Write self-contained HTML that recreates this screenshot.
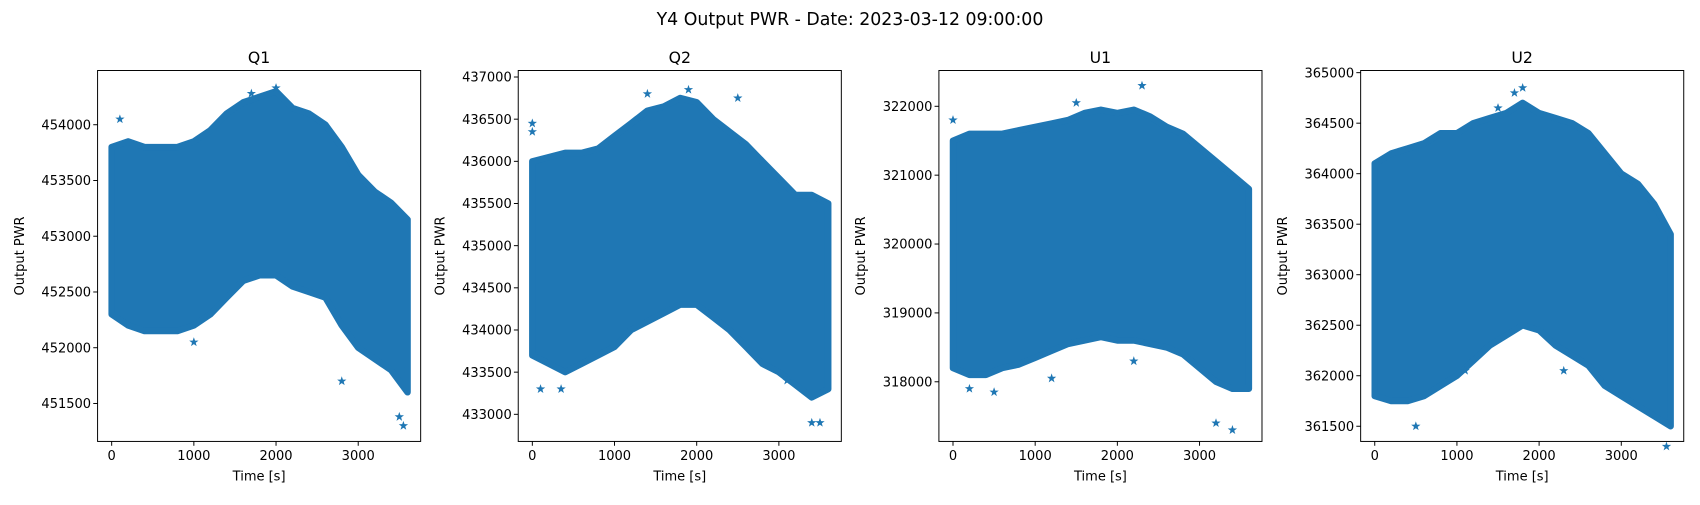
<!DOCTYPE html>
<html><head><meta charset="utf-8"><style>
body{margin:0;background:#fff;}
svg text{font-family:"DejaVu Sans","Liberation Sans",sans-serif;fill:#000;}
</style></head><body>
<svg id="fig" width="1700" height="500" viewBox="0 0 1568 461" preserveAspectRatio="none" xmlns="http://www.w3.org/2000/svg">
<text x="784" y="23" font-size="16" text-anchor="middle">Y4 Output PWR - Date: 2023-03-12 09:00:00</text>
</svg>
<script>
const times=[0,200,400,600,800,1000,1200,1400,1600,1800,2000,2200,2400,2600,2800,3000,3200,3400,3600];
const q1Upper=[453800,453850,453800,453800,453800,453850,453950,454100,454200,454250,454300,454150,454100,454000,453800,453550,453400,453300,453150];
const q1Lower=[452300,452200,452150,452150,452150,452200,452300,452450,452600,452650,452650,452550,452500,452450,452200,452000,451900,451800,451600];
const q1OutT=[100,1000,2800,3550,3500,1700,2000];
const q1OutV=[454050,452050,451700,451300,451380,454280,454330];
const q2Upper=[436000,436050,436100,436100,436150,436300,436450,436600,436650,436750,436700,436500,436350,436200,436000,435800,435600,435600,435500];
const q2Lower=[433700,433600,433500,433600,433700,433800,434000,434100,434200,434300,434300,434150,434000,433800,433600,433500,433350,433200,433300];
const q2OutT=[0,0,100,350,2500,3400,3500,3100,1400,1900];
const q2OutV=[436450,436350,433300,433300,436750,432900,432900,433400,436800,436850];
const u1Upper=[321500,321600,321600,321600,321650,321700,321750,321800,321900,321950,321900,321950,321850,321700,321600,321400,321200,321000,320800];
const u1Lower=[318200,318100,318100,318200,318250,318350,318450,318550,318600,318650,318600,318600,318550,318500,318400,318200,318000,317900,317900];
const u1OutT=[0,2300,3200,3400,200,500,1200,2200,1500];
const u1OutV=[321800,322300,317400,317300,317900,317850,318050,318300,322050];
const u2Upper=[364100,364200,364250,364300,364400,364400,364500,364550,364600,364700,364600,364550,364500,364400,364200,364000,363900,363700,363400];
const u2Lower=[361800,361750,361750,361800,361900,362000,362150,362300,362400,362500,362450,362300,362200,362100,361900,361800,361700,361600,361500];
const u2OutT=[1800,1700,500,3550,1500,2300,1100];
const u2OutV=[364850,364800,361500,361300,364650,362050,362050];
const xTicks=[0,1000,2000,3000];
const panels=[
 {name:'q1',title:'Q1',x0:90,up:q1Upper,lo:q1Lower,ot:q1OutT,ov:q1OutV,yTicks:[451500,452000,452500,453000,453500,454000],yA:454000,pyA:115,yB:451500,pyB:372},
 {name:'q2',title:'Q2',x0:478,up:q2Upper,lo:q2Lower,ot:q2OutT,ov:q2OutV,yTicks:[433000,433500,434000,434500,435000,435500,436000,436500,437000],yA:437000,pyA:71,yB:433000,pyB:382},
 {name:'u1',title:'U1',x0:866,up:u1Upper,lo:u1Lower,ot:u1OutT,ov:u1OutV,yTicks:[318000,319000,320000,321000,322000],yA:322000,pyA:98,yB:318000,pyB:352},
 {name:'u2',title:'U2',x0:1255,up:u2Upper,lo:u2Lower,ot:u2OutT,ov:u2OutV,yTicks:[361500,362000,362500,363000,363500,364000,364500,365000],yA:365000,pyA:67,yB:361500,pyB:393}
];
const NS='http://www.w3.org/2000/svg';
const svg=document.getElementById('fig');
function mk(tag,attrs,parent){const e=document.createElementNS(NS,tag);for(const k in attrs)e.setAttribute(k,attrs[k]);(parent||svg).appendChild(e);return e;}
const W=298,TOP=65,BOT=407,C='#1f77b4';
function starPts(cx,cy,r){let p=[];for(let i=0;i<10;i++){const a=-Math.PI/2+i*Math.PI/5;const rr=i%2?r*0.4:r;p.push((cx+rr*Math.cos(a)).toFixed(1)+','+(cy+rr*Math.sin(a)).toFixed(1));}return p.join(' ');}
panels.forEach(P=>{
 const g=mk('g',{});
 
 
 const xs=t=>P.x0+13+t*0.0758;
 const ys=v=>P.pyA+(P.yA-v)*(P.pyB-P.pyA)/(P.yA-P.yB);
 let pts=[];
 P.up.forEach((v,i)=>pts.push([xs(times[i]),ys(v)]));
 for(let i=P.lo.length-1;i>=0;i--)pts.push([xs(times[i]),ys(P.lo[i])]);
 const band=mk('polygon',{points:pts.map(p=>p[0].toFixed(1)+','+p[1].toFixed(1)).join(' '),fill:C,stroke:C,'stroke-width':6,'stroke-linejoin':'round'},g);
 
 
 P.ot.forEach((t,i)=>{
  const s=mk('polygon',{points:starPts(xs(t),ys(P.ov[i]),4.5),fill:C},g);
  
  
 });
 const box=mk('rect',{x:P.x0,y:TOP,width:W,height:BOT-TOP,fill:'none',stroke:'#000','stroke-width':0.9},g);
 
 
 xTicks.forEach(t=>{
  const x=xs(t);
  mk('line',{x1:x,x2:x,y1:BOT,y2:BOT+4,stroke:'#000','stroke-width':0.9},g);
  const tx=mk('text',{x:x,y:BOT+17,'font-size':12,'text-anchor':'middle'},g);
  tx.textContent=t;
  
  
 });
 P.yTicks.forEach(v=>{
  const y=ys(v);
  mk('line',{x1:P.x0-4,x2:P.x0,y1:y,y2:y,stroke:'#000','stroke-width':0.9},g);
  const tx=mk('text',{x:P.x0-6,y:y+4.3,'font-size':12,'text-anchor':'end'},g);
  tx.textContent=v;
  
  
 });
 const ti=mk('text',{x:P.x0+W/2,y:58,'font-size':14.5,'text-anchor':'middle'},g);
 ti.textContent=P.title;
 
 
 const xl=mk('text',{x:P.x0+W/2,y:443,'font-size':12,'text-anchor':'middle'},g);
 xl.textContent='Time [s]';
 
 
 const yx=P.x0-68,yy=(TOP+BOT)/2;
 const yl=mk('text',{x:yx,y:yy,'font-size':12,'text-anchor':'middle',transform:'rotate(-90 '+yx+' '+yy+')'},g);
 yl.textContent='Output PWR';
 
 
});
</script>
</body></html>
